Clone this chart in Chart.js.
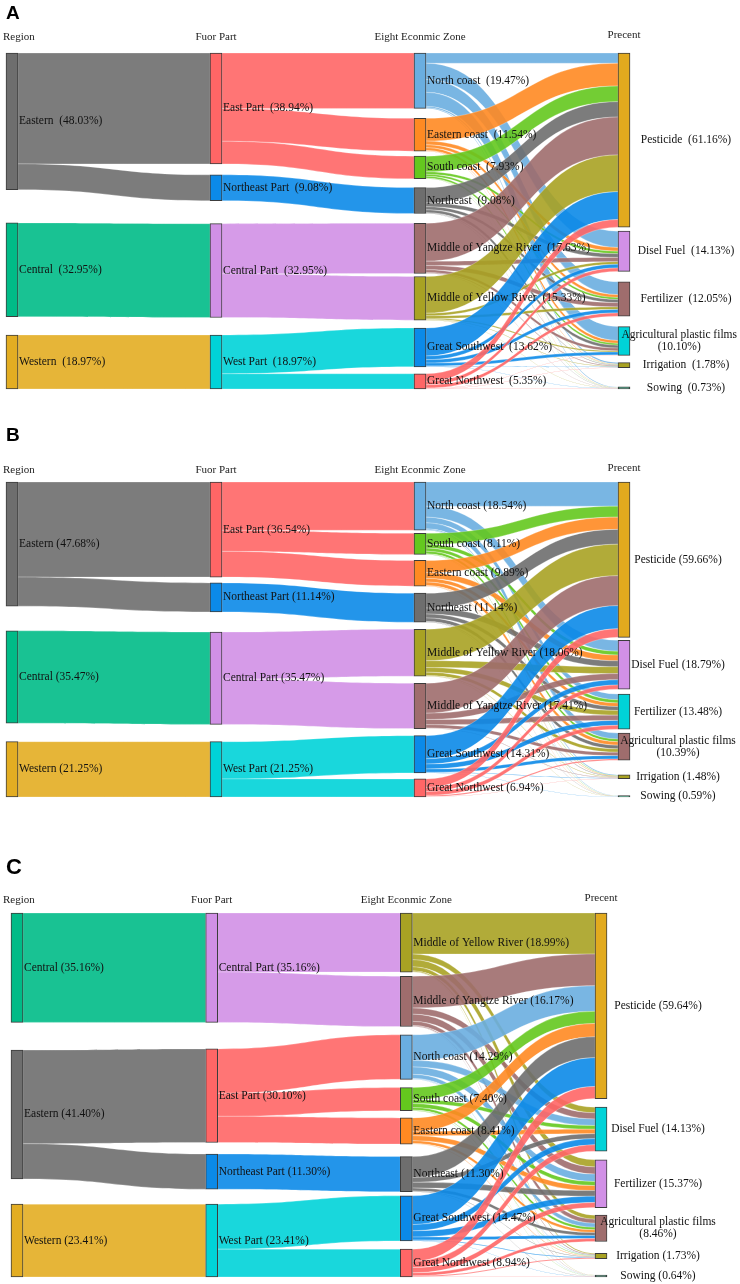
<!DOCTYPE html>
<html>
<head>
<meta charset="utf-8">
<script src="https://cdn.jsdelivr.net/npm/chart.js@4.4.1/dist/chart.umd.min.js"></script>
<style>
body { margin: 0; background: #fff; width: 740px; height: 1284px; position: relative; overflow: hidden; }
canvas { position: absolute; left: 0; }
</style>
</head>
<body>
<canvas id="chartA" width="740" height="400" style="top:0px"></canvas>
<canvas id="chartB" width="740" height="390" style="top:420px"></canvas>
<canvas id="chartC" width="740" height="444" style="top:840px"></canvas>
<script>
// column titles and final-use categories (same in all three panels)
const stageTitles = ['Region', 'Fuor Part', 'Eight Econmic Zone', 'Precent'];
const useNames = ['Pesticide', 'Disel Fuel', 'Fertilizer', 'Agricultural plastic films', 'Irrigation', 'Sowing'];

// ---- panel A
const regionsA = ['Eastern', 'Central', 'Western'];
const regionValuesA = [48.03, 32.95, 18.97];
const partsA = ['East Part', 'Northeast Part', 'Central Part', 'West Part'];
const partValuesA = [38.94, 9.08, 32.95, 18.97];
const partRegionA = [0, 0, 1, 2];
const zonesA = ['North coast', 'Eastern coast', 'South coast', 'Northeast', 'Middle of Yangtze River', 'Middle of Yellow River', 'Great Southwest', 'Great Northwest'];
const zoneValuesA = [19.47, 11.54, 7.93, 9.08, 17.63, 15.33, 13.62, 5.35];
const zonePartA = [0, 0, 0, 1, 2, 2, 3, 3];
const useValuesA = [61.16, 14.13, 12.05, 10.10, 1.78, 0.73];
// zone -> use (estimated from band widths)
const flowsA = [
	[3.6, 5.72, 4.5, 4.9, 0.5, 0.25],
	[8.0, 1.3, 1.0, 1.0, 0.18, 0.06],
	[5.5, 0.9, 0.7, 0.65, 0.14, 0.04],
	[5.4, 1.3, 1.1, 1.0, 0.22, 0.06],
	[13.3, 1.5, 1.5, 1.0, 0.25, 0.08],
	[12.9, 0.9, 0.9, 0.4, 0.18, 0.05],
	[9.8, 1.3, 1.2, 1.0, 0.24, 0.08],
	[2.66, 1.21, 1.15, 0.15, 0.07, 0.11]
];

// ---- panel B
const regionsB = ['Eastern', 'Central', 'Western'];
const regionValuesB = [47.68, 35.47, 21.25];
const partsB = ['East Part', 'Northeast Part', 'Central Part', 'West Part'];
const partValuesB = [36.54, 11.14, 35.47, 21.25];
const partRegionB = [0, 0, 1, 2];
const zonesB = ['North coast', 'South coast', 'Eastern coast', 'Northeast', 'Middle of Yellow River', 'Middle of Yangtze River', 'Great Southwest', 'Great Northwest'];
const zoneValuesB = [18.54, 8.11, 9.89, 11.14, 18.06, 17.41, 14.31, 6.94];
const zonePartB = [0, 0, 0, 1, 2, 2, 3, 3];
const useValuesB = [59.66, 18.79, 13.48, 10.39, 1.48, 0.59];
const flowsB = [
	[9.3, 4.2, 2.2, 2.3, 0.35, 0.19],
	[4.2, 1.5, 1.2, 1.0, 0.15, 0.06],
	[4.7, 2.2, 1.4, 1.35, 0.17, 0.07],
	[5.7, 2.3, 1.5, 1.4, 0.18, 0.06],
	[12.1, 2.6, 1.8, 1.3, 0.2, 0.06],
	[11.5, 2.4, 2.0, 1.3, 0.16, 0.05],
	[8.9, 2.0, 1.9, 1.3, 0.15, 0.06],
	[3.26, 1.59, 1.48, 0.45, 0.12, 0.04]
];

// ---- panel C
const regionsC = ['Central', 'Eastern', 'Western'];
const regionValuesC = [35.16, 41.40, 23.41];
const partsC = ['Central Part', 'East Part', 'Northeast Part', 'West Part'];
const partValuesC = [35.16, 30.10, 11.30, 23.41];
const partRegionC = [0, 1, 1, 2];
const zonesC = ['Middle of Yellow River', 'Middle of Yangtze River', 'North coast', 'South coast', 'Eastern coast', 'Northeast', 'Great Southwest', 'Great Northwest'];
const zoneValuesC = [18.99, 16.17, 14.29, 7.40, 8.41, 11.30, 14.47, 8.94];
const zonePartC = [0, 0, 1, 1, 1, 2, 3, 3];
const useValuesC = [59.64, 14.13, 15.37, 8.46, 1.73, 0.64];
const flowsC = [
	[13.2, 1.8, 2.3, 1.3, 0.28, 0.11],
	[10.2, 2.0, 2.3, 1.3, 0.27, 0.1],
	[8.2, 2.1, 2.4, 1.3, 0.2, 0.09],
	[3.9, 1.2, 1.3, 0.8, 0.15, 0.05],
	[4.3, 1.4, 1.6, 0.9, 0.15, 0.06],
	[6.7, 1.6, 1.8, 0.95, 0.18, 0.07],
	[9.25, 2.0, 2.0, 0.95, 0.2, 0.07],
	[3.89, 2.03, 1.67, 0.96, 0.30, 0.09]
];

// colours
const nodeColors = {
	'Eastern': '#6e6e6e', 'Central': '#00bb87', 'Western': '#e3ad22',
	'East Part': '#ff6666', 'Northeast Part': '#0b8ae8', 'Central Part': '#d190e6', 'West Part': '#00d3d8',
	'North coast': '#6aaee0', 'Eastern coast': '#ff8a22', 'South coast': '#64c81e', 'Northeast': '#6e6e6e',
	'Middle of Yangtze River': '#9f6d6d', 'Middle of Yellow River': '#a8a223',
	'Great Southwest': '#0b8ae8', 'Great Northwest': '#ff6666'
};
const useColorsA = ['#e2aa1e', '#d190e6', '#9f6d6d', '#00d3d8', '#a8a223', '#2e9e78'];
const useColorsB = ['#e2aa1e', '#d190e6', '#00d3d8', '#9f6d6d', '#a8a223', '#2e9e78'];
const useColorsC = ['#e2aa1e', '#00d3d8', '#d190e6', '#9f6d6d', '#a8a223', '#2e9e78'];

const serif = "'Liberation Serif', 'DejaVu Serif', serif";

function withAlpha(hex, a) {
	const n = parseInt(hex.slice(1), 16);
	return 'rgba(' + (n >> 16) + ',' + ((n >> 8) & 255) + ',' + (n & 255) + ',' + a + ')';
}

function renderSankey(canvasId, p) {
	const columns = [
		{ names: p.regions, values: p.regionValues, colors: p.regions.map(n => nodeColors[n]) },
		{ names: p.parts, values: p.partValues, colors: p.parts.map(n => nodeColors[n]) },
		{ names: p.zones, values: p.zoneValues, colors: p.zones.map(n => nodeColors[n]) },
		{ names: useNames, values: p.useValues, colors: p.useColors }
	];

	// stack nodes in each column, sharing the free space out by the gap weights
	columns.forEach((col, c) => {
		const total = col.values.reduce((a, b) => a + b, 0);
		const weights = p.gaps[c];
		const wsum = weights.reduce((a, b) => a + b, 0);
		const free = p.yMax - total;
		let y = 0;
		col.y0 = [];
		col.out = [];
		col.inn = [];
		col.values.forEach((v, i) => {
			col.y0.push(y);
			col.out.push(0);
			col.inn.push(0);
			y += v + (i < weights.length ? free * weights[i] / wsum : 0);
		});
	});

	const links = [];
	function addLink(c, s, t, v, color) {
		const src = columns[c], tgt = columns[c + 1];
		links.push({ c, s0: src.y0[s] + src.out[s], t0: tgt.y0[t] + tgt.inn[t], v, color });
		src.out[s] += v;
		tgt.inn[t] += v;
	}
	p.partValues.forEach((v, j) => addLink(0, p.partRegion[j], j, v, columns[0].colors[p.partRegion[j]]));
	p.zoneValues.forEach((v, k) => addLink(1, p.zonePart[k], k, v, columns[1].colors[p.zonePart[k]]));
	p.flows.forEach((row, i) => row.forEach((v, j) => addLink(2, i, j, v, columns[2].colors[i])));

	const barData = [], barColors = [], labels = [];
	columns.forEach((col, c) => {
		col.values.forEach((v, i) => {
			barData.push({ x: c, y: [col.y0[i], col.y0[i] + v] });
			barColors.push(col.colors[i]);
			labels.push({ c, name: col.names[i], value: v, mid: col.y0[i] + v / 2 });
		});
	});

	const sankeyPlugin = {
		id: 'sankeyLinks',
		beforeDatasetsDraw(chart) {
			const ctx = chart.ctx, xs = chart.scales.x, ys = chart.scales.y;
			ctx.save();
			links.forEach(l => {
				const x0 = xs.getPixelForValue(l.c) + 6;
				const x1 = xs.getPixelForValue(l.c + 1) - 6;
				const xm = (x0 + x1) / 2;
				const a0 = ys.getPixelForValue(l.s0), a1 = ys.getPixelForValue(l.s0 + l.v);
				const b0 = ys.getPixelForValue(l.t0), b1 = ys.getPixelForValue(l.t0 + l.v);
				ctx.beginPath();
				ctx.moveTo(x0, a0);
				ctx.bezierCurveTo(xm, a0, xm, b0, x1, b0);
				ctx.lineTo(x1, b1);
				ctx.bezierCurveTo(xm, b1, xm, a1, x0, a1);
				ctx.closePath();
				ctx.fillStyle = withAlpha(l.color, 0.9);
				ctx.fill();
				ctx.strokeStyle = 'rgba(255,255,255,0.5)';
				ctx.lineWidth = 0.5;
				ctx.stroke();
			});
			ctx.restore();
		},
		afterDatasetsDraw(chart) {
			const ctx = chart.ctx, xs = chart.scales.x, ys = chart.scales.y;
			ctx.save();
			ctx.font = '11.5px ' + serif;
			ctx.fillStyle = '#111';
			ctx.textBaseline = 'middle';
			labels.forEach(lb => {
				const y = ys.getPixelForValue(lb.mid);
				const pct = '(' + lb.value.toFixed(2) + '%)';
				if (lb.c < 3) {
					ctx.textAlign = 'left';
					ctx.fillText(lb.name + p.sep + pct, xs.getPixelForValue(lb.c) + 7, y);
				} else {
					ctx.textAlign = 'center';
					let x = xs.getPixelForValue(3) + p.useLabelOffset;
					if (lb.name.length > 14) {
						const w = ctx.measureText(lb.name).width;
						x = Math.min(x, chart.width - 3 - w / 2);
						ctx.fillText(lb.name, x, y - 6);
						ctx.fillText(pct, x, y + 6);
					} else {
						ctx.fillText(lb.name + p.sep + pct, x, y);
					}
				}
			});
			// column titles
			ctx.font = '11px ' + serif;
			ctx.fillStyle = '#222';
			ctx.textAlign = 'center';
			stageTitles.forEach((t, c) => {
				const w = ctx.measureText(t).width;
				const x = Math.max(xs.getPixelForValue(c), 3 + w / 2);
				ctx.fillText(t, x, p.headerY - (c === 3 ? 2 : 0));
			});
			// panel letter
			ctx.font = 'bold ' + p.letterSize + 'px ' + "'Liberation Sans', Arial, sans-serif";
			ctx.fillStyle = '#000';
			ctx.textAlign = 'left';
			ctx.textBaseline = 'top';
			ctx.fillText(p.letter, 6, p.letterTop);
			ctx.restore();
		}
	};

	new Chart(document.getElementById(canvasId), {
		type: 'bar',
		data: {
			datasets: [{
				data: barData,
				backgroundColor: barColors,
				borderColor: '#3c3c3c',
				borderWidth: 1,
				borderSkipped: false,
				barThickness: 12,
				clip: false
			}]
		},
		options: {
			responsive: false,
			animation: false,
			layout: { padding: p.padding },
			plugins: { legend: { display: false }, tooltip: { enabled: false } },
			scales: {
				x: { type: 'linear', min: 0, max: 3, offset: false, display: false },
				y: { type: 'linear', min: 0, max: p.yMax, reverse: true, display: false }
			}
		},
		plugins: [sankeyPlugin]
	});
}

renderSankey('chartA', {
	regions: regionsA, regionValues: regionValuesA,
	parts: partsA, partValues: partValuesA, partRegion: partRegionA,
	zones: zonesA, zoneValues: zoneValuesA, zonePart: zonePartA,
	useValues: useValuesA, flows: flowsA, useColors: useColorsA,
	yMax: 118, padding: { left: 12, right: 116, top: 53, bottom: 11 },
	gaps: [[29, 16], [10, 21, 16], [10, 5, 9, 10, 3, 8, 7], [5, 13, 13, 9, 24]],
	letter: 'A', letterTop: 4, letterSize: 19, headerY: 37, useLabelOffset: 62, sep: '  '
});
renderSankey('chartB', {
	regions: regionsB, regionValues: regionValuesB,
	parts: partsB, partValues: partValuesB, partRegion: partRegionB,
	zones: zonesB, zoneValues: zoneValuesB, zonePart: zonePartB,
	useValues: useValuesB, flows: flowsB, useColors: useColorsB,
	yMax: 121, padding: { left: 12, right: 116, top: 62, bottom: 13 },
	gaps: [[8, 6], [2, 7, 6], [3, 6, 7, 7, 7, 7, 6], [3, 5, 4, 15, 17]],
	letter: 'B', letterTop: 6, letterSize: 19, headerY: 50, useLabelOffset: 54, sep: ' '
});
renderSankey('chartC', {
	regions: regionsC, regionValues: regionValuesC,
	parts: partsC, partValues: partValuesC, partRegion: partRegionC,
	zones: zonesC, zoneValues: zoneValuesC, zonePart: zonePartC,
	useValues: useValuesC, flows: flowsC, useColors: useColorsC,
	yMax: 117, padding: { left: 17, right: 139, top: 73, bottom: 7 },
	gaps: [[23, 21], [23, 10, 13], [4, 8, 8, 7, 12, 4, 8], [8, 8, 7, 11, 15]],
	letter: 'C', letterTop: 17, letterSize: 22, headerY: 60, useLabelOffset: 57, sep: ' '
});
</script>
</body>
</html>
